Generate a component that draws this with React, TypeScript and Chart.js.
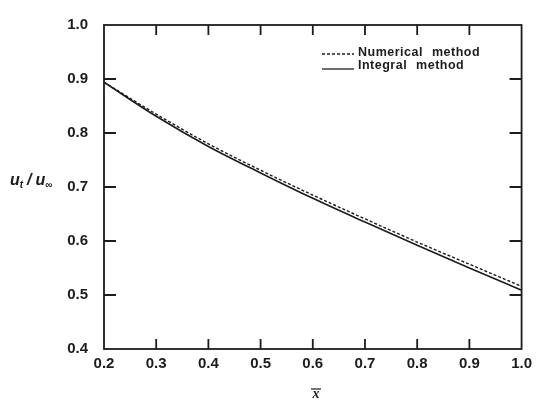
import React, { useEffect, useRef } from "react";
import { Chart, registerables } from "chart.js";

Chart.register(...registerables);

const xValues = [0.2, 0.3, 0.4, 0.5, 0.6, 0.7, 0.8, 0.9, 1.0];
const numericalMethod = [0.894, 0.835, 0.780, 0.731, 0.685, 0.641, 0.598, 0.557, 0.516];
const integralMethod = [0.894, 0.831, 0.775, 0.726, 0.679, 0.635, 0.592, 0.550, 0.509];
const xTickValues = [0.2, 0.3, 0.4, 0.5, 0.6, 0.7, 0.8, 0.9, 1.0];
const yTickValues = [0.4, 0.5, 0.6, 0.7, 0.8, 0.9, 1.0];
const legendLabels = ["Numerical method", "Integral method"];

const INK = "#1c1c1c";

const framePlugin = {
  id: "frame",
  afterDraw(chart: any) {
    const { ctx, chartArea } = chart;
    const xs = chart.scales.x;
    const ys = chart.scales.y;
    const { left, right, top, bottom } = chartArea;
    ctx.save();
    ctx.strokeStyle = INK;
    ctx.lineWidth = 1.8;
    ctx.strokeRect(left, top, right - left, bottom - top);
    ctx.beginPath();
    xTickValues.slice(1, -1).forEach((v) => {
      const px = xs.getPixelForValue(v);
      ctx.moveTo(px, bottom);
      ctx.lineTo(px, bottom - 10);
      ctx.moveTo(px, top);
      ctx.lineTo(px, top + 10);
    });
    yTickValues.slice(1, -1).forEach((v) => {
      const py = ys.getPixelForValue(v);
      ctx.moveTo(left, py);
      ctx.lineTo(left + 12, py);
      ctx.moveTo(right, py);
      ctx.lineTo(right - 12, py);
    });
    ctx.stroke();

    // legend
    const lx0 = 322;
    const lx1 = 354;
    const lineRows = [54, 69];
    const textRows = [53, 66];
    ctx.lineWidth = 1.3;
    ctx.setLineDash([3, 2]);
    ctx.beginPath();
    ctx.moveTo(lx0, lineRows[0]);
    ctx.lineTo(lx1, lineRows[0]);
    ctx.stroke();
    ctx.setLineDash([]);
    ctx.beginPath();
    ctx.moveTo(lx0, lineRows[1]);
    ctx.lineTo(lx1, lineRows[1]);
    ctx.stroke();
    ctx.fillStyle = INK;
    ctx.font = "bold 12.5px 'Liberation Sans', Arial, sans-serif";
    ctx.textBaseline = "middle";
    ctx.textAlign = "left";
    (ctx as any).letterSpacing = "0.5px";
    (ctx as any).wordSpacing = "5px";
    ctx.fillText(legendLabels[0], lx1 + 4, textRows[0]);
    ctx.fillText(legendLabels[1], lx1 + 4, textRows[1]);
    (ctx as any).letterSpacing = "0px";
    (ctx as any).wordSpacing = "0px";

    // y title: u_t / u_inf
    const ty = 180;
    let tx = 10;
    const big = "italic bold 16px 'Liberation Sans', Arial, sans-serif";
    const small = "italic bold 10px 'Liberation Sans', Arial, sans-serif";
    ctx.textBaseline = "alphabetic";
    ctx.font = big;
    ctx.fillText("u", tx, ty + 5);
    tx += ctx.measureText("u").width;
    ctx.font = small;
    ctx.fillText("t", tx, ty + 8);
    tx += ctx.measureText("t").width + 4;
    ctx.font = big;
    ctx.fillText("/", tx, ty + 5);
    tx += ctx.measureText("/").width + 4;
    ctx.fillText("u", tx, ty + 5);
    tx += ctx.measureText("u").width;
    ctx.font = small;
    ctx.fillText("∞", tx, ty + 8);

    // x title: x-bar
    ctx.font = "italic bold 14px 'Liberation Serif', serif";
    ctx.textAlign = "center";
    ctx.fillText("x", 316, 398);
    ctx.lineWidth = 1.2;
    ctx.beginPath();
    ctx.moveTo(311, 389);
    ctx.lineTo(321, 389);
    ctx.stroke();
    ctx.restore();
  },
};

export default function App() {
  const ref = useRef<HTMLCanvasElement | null>(null);
  useEffect(() => {
    document.body.style.margin = "0";
    const canvas = ref.current;
    if (!canvas) return;
    const chart = new Chart(canvas, {
      type: "line",
      data: {
        datasets: [
          {
            label: legendLabels[0],
            data: xValues.map((x, i) => ({ x, y: numericalMethod[i] })),
            borderColor: INK,
            borderWidth: 1.4,
            borderDash: [3, 2],
            pointRadius: 0,
            cubicInterpolationMode: "monotone",
            fill: false,
          },
          {
            label: legendLabels[1],
            data: xValues.map((x, i) => ({ x, y: integralMethod[i] })),
            borderColor: INK,
            borderWidth: 1.6,
            pointRadius: 0,
            cubicInterpolationMode: "monotone",
            fill: false,
          },
        ],
      },
      options: {
        animation: false,
        responsive: false,
        devicePixelRatio: 1,
        layout: { padding: { top: 14, right: 14, bottom: 0, left: 0 } },
        plugins: {
          legend: { display: false },
          tooltip: { enabled: false },
          title: { display: false },
        },
        scales: {
          x: {
            type: "linear",
            min: 0.2,
            max: 1.0,
            afterBuildTicks: (scale: any) => {
              scale.ticks = xTickValues.map((v) => ({ value: v }));
            },
            afterFit: (scale: any) => {
              scale.height = 53;
            },
            grid: { display: false, drawTicks: false },
            border: { display: false },
            ticks: {
              padding: 6,
              color: INK,
              font: { family: "'Liberation Sans', Arial, sans-serif", size: 15, weight: "bold" },
              callback: (v: any) => Number(v).toFixed(1),
              maxRotation: 0,
              autoSkip: false,
            },
          },
          y: {
            type: "linear",
            min: 0.4,
            max: 1.0,
            afterBuildTicks: (scale: any) => {
              scale.ticks = yTickValues.map((v) => ({ value: v }));
            },
            afterFit: (scale: any) => {
              scale.width = 104;
            },
            grid: { display: false, drawTicks: false },
            border: { display: false },
            ticks: {
              padding: 16,
              color: INK,
              font: { family: "'Liberation Sans', Arial, sans-serif", size: 15, weight: "bold" },
              callback: (v: any) => Number(v).toFixed(1),
              autoSkip: false,
            },
          },
        },
      } as any,
      plugins: [framePlugin],
    });
    return () => chart.destroy();
  }, []);
  return (
    <div style={{ width: 538, height: 402, background: "#fff" }}>
      <canvas ref={ref} width={538} height={402} style={{ display: "block" }} />
    </div>
  );
}
